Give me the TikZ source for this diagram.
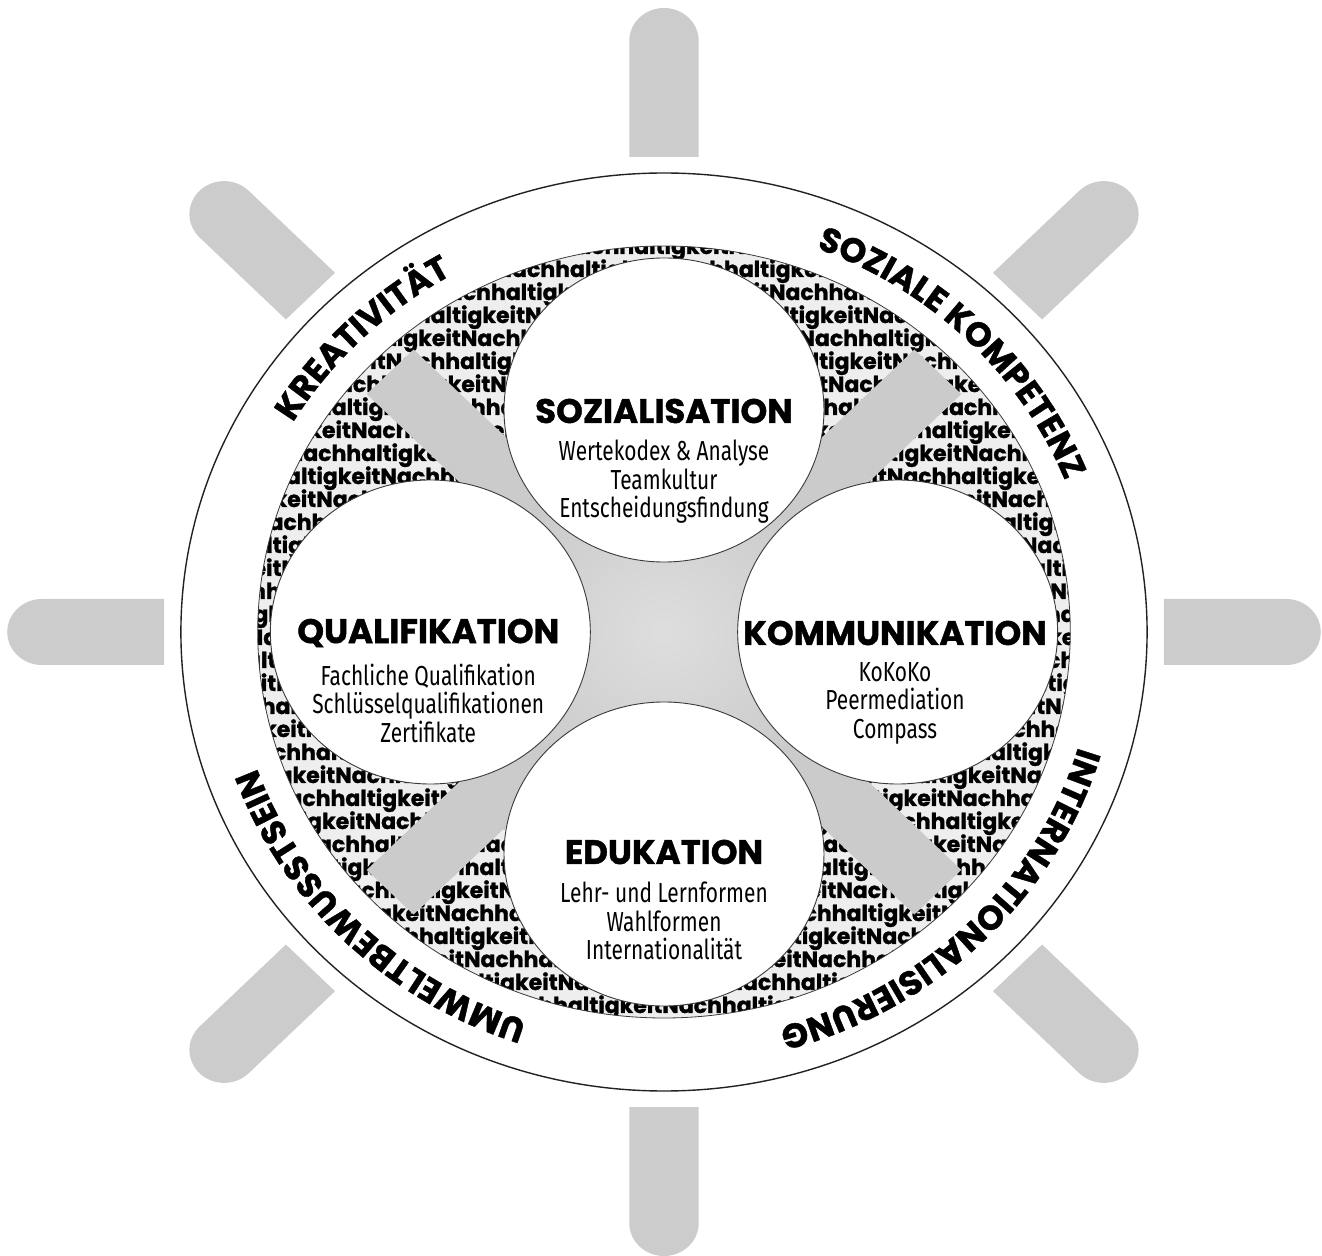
\documentclass[tikz,border=0pt]{standalone}
\usepackage{fontspec}
\setmainfont{Fira Sans}
\newfontfamily\geo{Poppins}[BoldFeatures={FakeBold=1.2}]
\newfontfamily\cond[FakeStretch=0.76]{Fira Sans}
\usetikzlibrary{decorations.text}
\definecolor{spokegray}{HTML}{CCCCCC}
\definecolor{bargray}{HTML}{CBCBCB}
\definecolor{centergray}{HTML}{DEDEDE}
\definecolor{texbg}{HTML}{EEEEEE}
\definecolor{rimline}{HTML}{222222}
\definecolor{circline}{HTML}{3A3A3A}
\begin{document}
\begin{tikzpicture}[x=1pt,y=1pt,xscale=1.0525,
  spoke/.style={fill=spokegray},
  bar/.style={fill=bargray},
  wheelcircle/.style={fill=white,draw=circline,line width=0.9pt},
  titletxt/.style={font=\geo\bfseries\fontsize{34}{35}\selectfont,inner sep=0pt},
  subtxt/.style={font=\cond\fontsize{27.5}{28.5}\selectfont,align=center,inner sep=0pt},
  rowtxt/.style={font=\geo\bfseries\fontsize{22}{22}\selectfont,anchor=base west,inner sep=0pt},
  ringtxt/.style={decorate,decoration={text along path,text align=center,
     text={|\geo\bfseries\fontsize{34}{34}\selectfont|#1}}}
]
\useasboundingbox (-630.88,-624) rectangle (625.18,632);
% outer spokes
\foreach \a in {0,45,...,315}{
  \begin{scope}[rotate=\a]
    \fill[spoke] (475,-33) -- (591,-33) arc[start angle=-90,end angle=90,radius=33] -- (475,33) -- cycle;
  \end{scope}
}
% rim
\draw[fill=white,draw=rimline,line width=1.4pt] (0,0) circle (459);
% textured disk
\begin{scope}
  \clip (0,0) circle (386);
  \fill[texbg] (0,0) circle (386);
  \foreach \k in {0,...,34}{
    \pgfmathsetmacro\yy{378-23*\k}
    \pgfmathsetmacro\xx{-420-mod(\k*61,150)}
    \node[rowtxt] (row\k) at (\xx,\yy) {NachhaltigkeitNachhaltigkeitNachhaltigkeitNachhaltigkeitNachhaltigkeitNachhaltigkeitNachhaltigkeitNachhaltigkeit};
  }
\end{scope}
\draw[draw=circline,line width=0.8pt] (0,0) circle (386);
% inner bars
\foreach \a in {45,135,225,315}{
  \begin{scope}[rotate=\a]
    \fill[bar] (0,-31.5) -- (368,-31.5) -- (368,31.5) -- (0,31.5) -- cycle;
  \end{scope}
}
\shade[inner color=centergray,outer color=bargray] (0,0) circle (165);
% four circles
\draw[wheelcircle] (0,222) circle (152);
\draw[wheelcircle] (-222,0) circle (152);
\draw[wheelcircle] (222,0) circle (152);
\draw[wheelcircle] (0,-222) circle (152);
% circle texts
\node[titletxt] (tsoz) at (0,221) {SOZIALISATION};
\node[subtxt] (ssoz) at (0,150) {Wertekodex \& Analyse\\Teamkultur\\Entscheidungsfindung};
\node[titletxt] (tqua) at (-224,-1) {QUALIFIKATION};
\node[subtxt] (squa) at (-224,-71) {Fachliche Qualifikation\\Schlüsselqualifikationen\\Zertifikate};
\node[titletxt] (tkom) at (219.5,-1) {KOMMUNIKATION};
\node[subtxt] (skom) at (219.5,-71) {KoKoKo\\Peermediation\\Compass};
\node[titletxt] (tedu) at (0,-220) {EDUKATION};
\node[subtxt] (sedu) at (0,-289) {Lehr- und Lernformen\\Wahlformen\\Internationalität};
% ring labels
\path[ringtxt=KREATIVITÄT] (180:410) arc[start angle=180,end angle=90,radius=410];
\path[ringtxt=SOZIALE KOMPETENZ] (90:410) arc[start angle=90,end angle=0,radius=410];
\path[ringtxt=INTERNATIONALISIERUNG] (0:410) arc[start angle=0,end angle=-90,radius=410];
\path[ringtxt=UMWELTBEWUSSTSEIN] (270:410) arc[start angle=270,end angle=180,radius=410];
\end{tikzpicture}
\end{document}
